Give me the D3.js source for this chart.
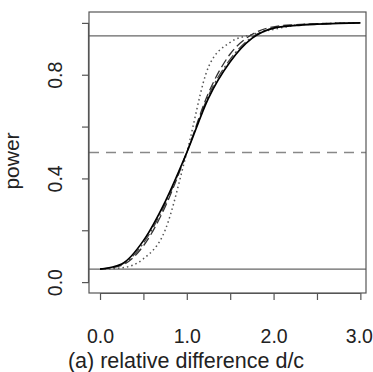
<!DOCTYPE html>
<html>
<head>
<meta charset="utf-8">
<script src="https://cdn.jsdelivr.net/npm/d3@7"></script>
<style>
  body { margin: 0; background: #fff; }
  text { font-family: "Liberation Sans", Arial, sans-serif; fill: #222; }
</style>
</head>
<body>
<div id="chart"></div>
<script>
// relative difference d/c
const ratio = [0, 0.25, 0.5, 0.75, 1.0, 1.25, 1.5, 1.75, 2.0, 2.25, 2.5, 2.75, 3.0];
// power curves
const powerSolid = [0.05, 0.07, 0.16, 0.31, 0.50, 0.71, 0.85, 0.94, 0.98, 0.99, 0.995, 0.998, 1.0];
const powerLongDash = [0.05, 0.065, 0.14, 0.29, 0.50, 0.73, 0.88, 0.955, 0.985, 0.993, 0.997, 0.999, 1.0];
const powerDashDot = [0.05, 0.068, 0.15, 0.30, 0.50, 0.72, 0.86, 0.945, 0.98, 0.992, 0.996, 0.998, 1.0];
const powerDotted = [0.05, 0.055, 0.09, 0.20, 0.50, 0.83, 0.925, 0.955, 0.975, 0.99, 0.996, 0.999, 1.0];
const refLevels = [0.05, 0.95];
const midLevel = 0.5;
const xTicks = [0, 0.5, 1, 1.5, 2, 2.5, 3];
const xLabels = ['0.0', '', '1.0', '', '2.0', '', '3.0'];
const yTicks = [0, 0.2, 0.4, 0.6, 0.8, 1.0];
const yLabels = ['0.0', '', '0.4', '', '0.8', ''];

const width = 373;
const height = 372;
const margin = { top: 12, right: 7, bottom: 79, left: 89 };
const plotW = width - margin.left - margin.right;
const plotH = height - margin.top - margin.bottom;

const x = d3.scaleLinear().domain([-0.127, 3.065]).range([0, plotW]);
const y = d3.scaleLinear().domain([-0.042, 1.042]).range([plotH, 0]);

const svg = d3.select('#chart').append('svg')
  .attr('width', width)
  .attr('height', height);

const g = svg.append('g')
  .attr('transform', `translate(${margin.left},${margin.top})`);

// reference lines
g.selectAll('.ref')
  .data(refLevels)
  .enter()
  .append('line')
  .attr('x1', 0).attr('x2', plotW)
  .attr('y1', d => y(d)).attr('y2', d => y(d))
  .style('stroke', '#666')
  .style('stroke-width', 1.2);

g.append('line')
  .attr('x1', 0).attr('x2', plotW)
  .attr('y1', y(midLevel)).attr('y2', y(midLevel))
  .style('stroke', '#888')
  .style('stroke-width', 1.5)
  .style('stroke-dasharray', '10,7');

const line = d3.line()
  .x((d, i) => x(ratio[i]))
  .y(d => y(d))
  .curve(d3.curveMonotoneX);

const series = [
  { values: powerDotted, color: '#555', width: 1.5, dash: '1.5,3' },
  { values: powerDashDot, color: '#444', width: 1.2, dash: '10,3,2,3' },
  { values: powerLongDash, color: '#333', width: 1.3, dash: '9,4' },
  { values: powerSolid, color: '#000', width: 1.7, dash: null }
];

g.selectAll('.curve')
  .data(series)
  .enter()
  .append('path')
  .attr('class', 'curve')
  .attr('d', d => line(d.values))
  .style('fill', 'none')
  .style('stroke', d => d.color)
  .style('stroke-width', d => d.width)
  .style('stroke-dasharray', d => d.dash);

// box
g.append('rect')
  .attr('width', plotW)
  .attr('height', plotH)
  .style('fill', 'none')
  .style('stroke', '#555')
  .style('stroke-width', 1.2);

// x axis
const xAxis = d3.axisBottom(x)
  .tickValues(xTicks)
  .tickSize(7)
  .tickPadding(29)
  .tickFormat((d, i) => xLabels[i]);

const xg = g.append('g')
  .attr('transform', `translate(0,${plotH})`)
  .call(xAxis);
xg.select('.domain')
  .attr('d', `M${x(0)},0.5H${x(3)}`)
  .style('stroke', '#555')
  .style('stroke-width', 1.2);
xg.selectAll('.tick line').style('stroke', '#555').style('stroke-width', 1.2);
xg.selectAll('.tick text')
  .attr('dx', d => (d === 3 ? -1.5 : 0))
  .style('font-size', '19.5px')
  .style('font-family', '"Liberation Sans", Arial, sans-serif')
  .style('fill', '#222');

// y axis
const yAxis = d3.axisLeft(y)
  .tickValues(yTicks)
  .tickSize(7)
  .tickFormat((d, i) => yLabels[i]);

const yg = g.append('g').call(yAxis);
yg.select('.domain')
  .attr('d', `M-0.5,${y(0)}V${y(1)}`)
  .style('stroke', '#555')
  .style('stroke-width', 1.2);
yg.selectAll('.tick line').style('stroke', '#555').style('stroke-width', 1.2);
yg.selectAll('.tick text')
  .attr('x', null).attr('dy', null)
  .attr('transform', 'translate(-27.5,0) rotate(-90)')
  .attr('text-anchor', 'middle')
  .style('font-size', '19.5px')
  .style('font-family', '"Liberation Sans", Arial, sans-serif')
  .style('fill', '#222');

// axis titles
svg.append('text')
  .attr('x', 186)
  .attr('y', 368)
  .attr('text-anchor', 'middle')
  .style('font-size', '21.5px')
  .text('(a) relative difference d/c');

svg.append('text')
  .attr('transform', 'translate(19,161) rotate(-90)')
  .attr('text-anchor', 'middle')
  .style('font-size', '21px')
  .text('power');
</script>
</body>
</html>
